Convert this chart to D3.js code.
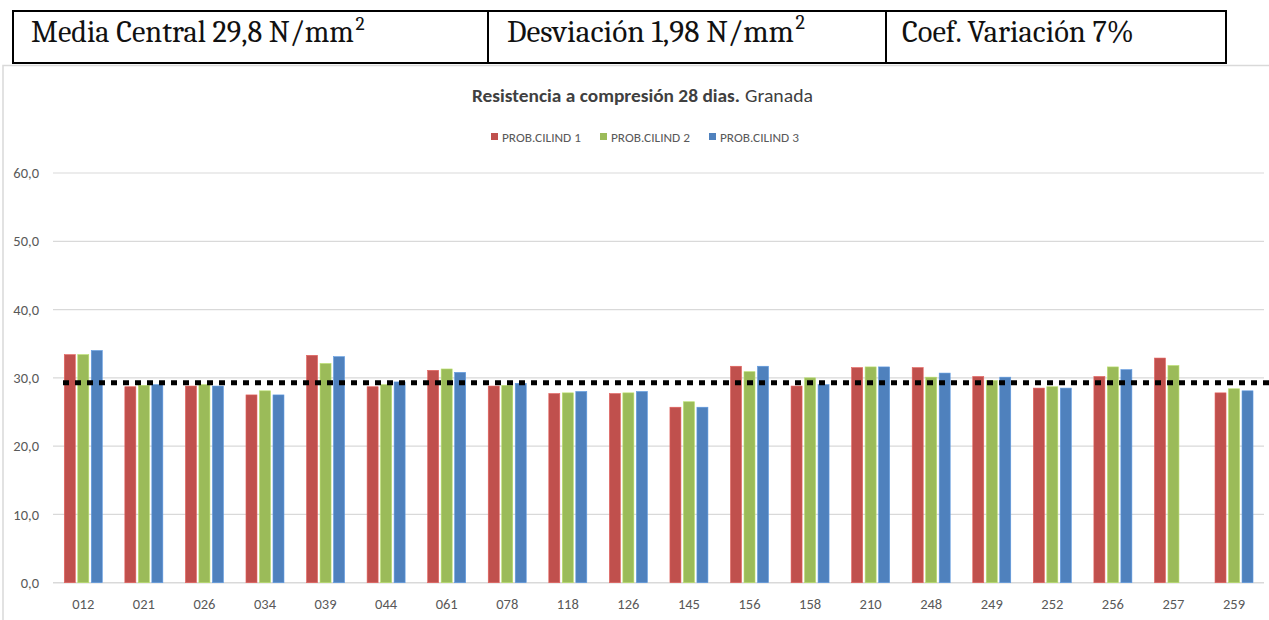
<!DOCTYPE html>
<html>
<head>
<meta charset="utf-8">
<script src="https://cdn.jsdelivr.net/npm/d3@7/dist/d3.min.js"></script>
<style>
  html, body { margin: 0; padding: 0; background: #fff; }
  svg { display: block; }
</style>
</head>
<body>
<svg id="chart" width="1269" height="620"></svg>
<script>
// ---------- data ----------
const categories = ["012","021","026","034","039","044","061","078","118","126","145","156","158","210","248","249","252","256","257","259"];
const seriesNames = ["PROB.CILIND 1", "PROB.CILIND 2", "PROB.CILIND 3"];
const cilind1 = [33.4, 28.7, 28.8, 27.5, 33.3, 28.7, 31.1, 28.8, 27.7, 27.7, 25.7, 31.7, 28.8, 31.5, 31.5, 30.2, 28.5, 30.2, 32.9, 27.8];
const cilind2 = [33.4, 28.9, 29.0, 28.1, 32.1, 29.0, 31.3, 28.9, 27.8, 27.8, 26.5, 30.9, 30.0, 31.6, 30.1, 29.6, 28.7, 31.6, 31.8, 28.4];
const cilind3 = [34.0, 29.0, 28.8, 27.5, 33.1, 29.4, 30.8, 29.2, 28.0, 28.0, 25.7, 31.7, 29.0, 31.6, 30.7, 30.1, 28.5, 31.2, null, 28.1];
const yTicks = [0, 10, 20, 30, 40, 50, 60];
const meanLineValue = 29.3;
const headerCells = [
  { text: "Media Central 29,8 N/mm", sup: "2" },
  { text: "Desviación 1,98 N/mm", sup: "2" },
  { text: "Coef. Variación 7%", sup: "" }
];
const titleBold = "Resistencia a compresión 28 dias.";
const titleNormal = "Granada";

// ---------- styles ----------
const colors = ["#C0504D", "#9BBB59", "#4F81BD"];
const sansFont = "Carlito, Lato, 'Open Sans', sans-serif";
const serifFont = "Caladea, 'Liberation Serif', 'DejaVu Serif', serif";

const svg = d3.select("#chart");
svg.append("rect").attr("width", 1269).attr("height", 620).attr("fill", "#fff");

// fit a text element to a target width by adjusting its font size
function fitWidth(sel, target, maxSize) {
  const base = +sel.attr("font-size");
  const w = sel.node().getComputedTextLength();
  let fs = base * target / w;
  if (maxSize && fs > maxSize) fs = maxSize;
  sel.attr("font-size", fs);
  const w2 = sel.node().getComputedTextLength();
  if (Math.abs(w2 - target) > 1) sel.attr("textLength", target).attr("lengthAdjust", "spacingAndGlyphs");
  return fs;
}

// ---------- header table ----------
const table = svg.append("g");
const tableBox = { x0: 13, y0: 11, x1: 1226, y1: 63 };
const dividers = [488, 886];
table.append("rect")
  .attr("x", tableBox.x0).attr("y", tableBox.y0)
  .attr("width", tableBox.x1 - tableBox.x0).attr("height", tableBox.y1 - tableBox.y0)
  .attr("fill", "none").attr("stroke", "#000").attr("stroke-width", 2);
dividers.forEach(dx => {
  table.append("line").attr("x1", dx).attr("x2", dx)
    .attr("y1", tableBox.y0).attr("y2", tableBox.y1)
    .attr("stroke", "#000").attr("stroke-width", 2);
});
const cellTextX = [31, 507, 902];
const cellTextLen = [323, 287, 232];
headerCells.forEach((c, i) => {
  const t = table.append("text")
    .attr("x", cellTextX[i]).attr("y", 42)
    .attr("font-family", serifFont).attr("font-size", 26)
    .attr("fill", "#111")
    .text(c.text);
  const fs = fitWidth(t, cellTextLen[i]);
  if (c.sup) {
    table.append("text")
      .attr("x", cellTextX[i] + cellTextLen[i] + 1.5).attr("y", 42 - fs * 0.4)
      .attr("font-family", serifFont).attr("font-size", fs * 0.64)
      .attr("fill", "#111")
      .text(c.sup);
  }
});

// ---------- chart frame ----------
svg.append("path")
  .attr("d", "M3,620 L3,65.5 L1269,65.5")
  .attr("fill", "none").attr("stroke", "#d9d9d9").attr("stroke-width", 1.5);

// ---------- title ----------
const tB = svg.append("text")
  .attr("x", 472).attr("y", 102)
  .attr("font-family", sansFont).attr("font-size", 18).attr("font-weight", "bold")
  .attr("fill", "#404040")
  .attr("textLength", 268).attr("lengthAdjust", "spacingAndGlyphs")
  .text(titleBold);
svg.append("text")
  .attr("x", 745).attr("y", 102)
  .attr("font-family", sansFont).attr("font-size", 18)
  .attr("fill", "#404040")
  .attr("textLength", 68).attr("lengthAdjust", "spacingAndGlyphs")
  .text(titleNormal);

// ---------- legend ----------
const legendX = [491, 600, 709];
const legend = svg.append("g");
seriesNames.forEach((name, i) => {
  legend.append("rect")
    .attr("x", legendX[i]).attr("y", 133).attr("width", 7).attr("height", 7)
    .attr("fill", colors[i]);
  legend.append("text")
    .attr("x", legendX[i] + 11).attr("y", 141.5)
    .attr("font-family", sansFont).attr("font-size", 13)
    .attr("fill", "#595959")
    .attr("textLength", 79).attr("lengthAdjust", "spacingAndGlyphs")
    .text(name);
});

// ---------- scales ----------
const x = d3.scaleBand().domain(categories).range([53, 1264.3]).paddingInner(0).paddingOuter(0);
const xSub = d3.scaleBand().domain(d3.range(3)).range([-19, 19]).paddingInner(0.185).paddingOuter(0);
const y = d3.scaleLinear().domain([0, 60]).range([582.7, 173]);

// gridlines
svg.append("g").selectAll("line")
  .data(yTicks)
  .join("line")
  .attr("x1", 53).attr("x2", 1264)
  .attr("y1", d => y(d)).attr("y2", d => y(d))
  .attr("stroke", "#d9d9d9").attr("stroke-width", d => d === 0 ? 1.5 : 1.2);

// y axis labels
const yAxis = svg.append("g")
  .attr("transform", "translate(39,0)")
  .call(d3.axisLeft(y).tickValues(yTicks).tickSize(0).tickPadding(0)
    .tickFormat(d => d3.format(".1f")(d).replace(".", ",")));
yAxis.select(".domain").remove();
yAxis.selectAll("text")
  .attr("font-family", sansFont).attr("font-size", 14.5).attr("fill", "#595959");

// x axis labels
const xAxis = svg.append("g")
  .attr("transform", `translate(0,${y(0)})`)
  .call(d3.axisBottom(x).tickSize(0).tickPadding(16.5));
xAxis.select(".domain").remove();
xAxis.selectAll("text")
  .attr("font-family", sansFont).attr("font-size", 14.5).attr("fill", "#595959");

// ---------- bars ----------
const allSeries = [cilind1, cilind2, cilind3];
const barData = [];
allSeries.forEach((vals, s) => {
  vals.forEach((v, i) => {
    if (v !== null && v !== undefined) barData.push({ cat: categories[i], s, v });
  });
});
svg.append("g").selectAll("rect")
  .data(barData)
  .join("rect")
  .attr("x", d => x(d.cat) + x.bandwidth() / 2 + xSub(d.s))
  .attr("width", xSub.bandwidth())
  .attr("y", d => y(d.v))
  .attr("height", d => y(0) - y(d.v))
  .attr("fill", d => colors[d.s])
  .attr("stroke", d => d3.color(colors[d.s]).brighter(0.5))
  .attr("stroke-width", 0.6);

// ---------- mean dotted line ----------
svg.append("line")
  .attr("x1", 63).attr("x2", 1269)
  .attr("y1", y(meanLineValue)).attr("y2", y(meanLineValue))
  .attr("stroke", "#000").attr("stroke-width", 5)
  .attr("stroke-dasharray", "6,6");
</script>
</body>
</html>
